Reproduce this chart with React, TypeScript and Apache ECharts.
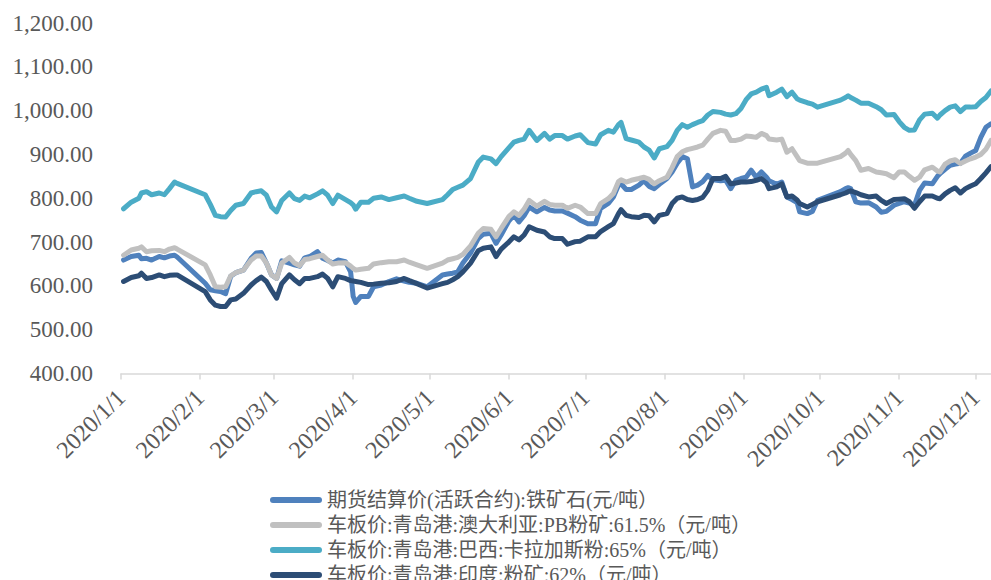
import React, { useEffect, useRef } from "react";
import * as echarts from "echarts";

const seriesNames = [
  "期货结算价(活跃合约):铁矿石(元/吨）",
  "车板价:青岛港:澳大利亚:PB粉矿:61.5%（元/吨）",
  "车板价:青岛港:巴西:卡拉加斯粉:65%（元/吨）",
  "车板价:青岛港:印度:粉矿:62%（元/吨）",
];

const xTickLabels = [
  "2020/1/1", "2020/2/1", "2020/3/1", "2020/4/1", "2020/5/1", "2020/6/1",
  "2020/7/1", "2020/8/1", "2020/9/1", "2020/10/1", "2020/11/1", "2020/12/1",
];

const yTicks = [400, 500, 600, 700, 800, 900, 1000, 1100, 1200];

const dates = [
  "2020-01-02","2020-01-05","2020-01-08","2020-01-09","2020-01-11","2020-01-13","2020-01-16","2020-01-18","2020-01-20","2020-01-22",
  "2020-01-23","2020-02-03","2020-02-05","2020-02-07","2020-02-09","2020-02-11","2020-02-13","2020-02-15","2020-02-18","2020-02-21",
  "2020-02-23","2020-02-25","2020-02-27","2020-02-29","2020-03-02","2020-03-04","2020-03-07","2020-03-09","2020-03-11","2020-03-13",
  "2020-03-15","2020-03-18","2020-03-20","2020-03-22","2020-03-24","2020-03-26","2020-03-29","2020-03-31","2020-04-01","2020-04-02",
  "2020-04-04","2020-04-07","2020-04-09","2020-04-12","2020-04-15","2020-04-18","2020-04-21","2020-04-23","2020-04-26","2020-04-30",
  "2020-05-06","2020-05-08","2020-05-10","2020-05-12","2020-05-14","2020-05-17","2020-05-20","2020-05-22","2020-05-25","2020-05-27",
  "2020-05-29","2020-06-01","2020-06-03","2020-06-05","2020-06-07","2020-06-09","2020-06-12","2020-06-15","2020-06-17","2020-06-19",
  "2020-06-22","2020-06-24","2020-06-27","2020-06-29","2020-07-02","2020-07-05","2020-07-07","2020-07-10","2020-07-12","2020-07-14",
  "2020-07-15","2020-07-17","2020-07-19","2020-07-22","2020-07-24","2020-07-26","2020-07-28","2020-07-30","2020-08-02","2020-08-04",
  "2020-08-06","2020-08-08","2020-08-10","2020-08-12","2020-08-14","2020-08-16","2020-08-18","2020-08-20","2020-08-23","2020-08-25",
  "2020-08-27","2020-08-29","2020-08-31","2020-09-02","2020-09-04","2020-09-06","2020-09-08","2020-09-10","2020-09-11","2020-09-14",
  "2020-09-16","2020-09-18","2020-09-20","2020-09-22","2020-09-23","2020-09-26","2020-09-28","2020-09-30","2020-10-09","2020-10-11",
  "2020-10-12","2020-10-13","2020-10-15","2020-10-17","2020-10-20","2020-10-23","2020-10-25","2020-10-27","2020-10-30","2020-11-01",
  "2020-11-03","2020-11-05","2020-11-07","2020-11-09","2020-11-11","2020-11-14","2020-11-16","2020-11-17","2020-11-19","2020-11-21",
  "2020-11-23","2020-11-25","2020-11-27","2020-11-29","2020-12-01","2020-12-03","2020-12-05","2020-12-07",
];

const futuresValues = [
  659,667,670,662,663,659,667,664,668,670,
  666,606,591,589,587,582,622,630,636,663,
  675,676,652,625,617,657,652,648,645,664,
  667,678,663,658,652,659,655,632,576,562,
  576,576,598,602,610,616,611,608,606,598,
  625,627,629,632,652,675,708,718,720,697,
  716,748,761,746,760,780,769,779,773,771,
  771,766,758,750,742,742,777,788,803,830,
  833,820,820,830,840,827,822,832,845,860,
  880,895,890,826,830,838,852,842,840,841,
  822,841,845,848,864,848,860,848,840,832,
  837,803,797,790,769,765,770,795,815,822,
  824,822,792,789,790,780,768,770,784,788,
  792,789,784,818,835,833,850,856,866,875,
  878,880,896,903,909,939,962,970,
];

const australiaValues = [
  670,682,686,689,678,680,681,678,684,687,
  684,648,625,598,597,598,623,630,636,659,
  668,668,652,625,617,652,665,652,646,660,
  662,667,670,659,650,652,653,645,640,636,
  638,640,650,653,655,655,659,654,648,640,
  652,659,662,665,672,691,720,731,729,712,
  731,758,769,761,775,795,782,793,786,784,
  784,777,784,780,765,765,788,799,811,838,
  842,837,841,845,848,843,833,840,848,870,
  895,906,911,914,917,921,935,948,955,953,
  932,932,935,942,941,939,948,943,935,933,
  935,905,913,895,886,880,880,880,895,903,
  909,900,886,864,868,860,858,856,847,860,
  860,850,841,848,865,871,862,860,878,885,
  888,879,885,890,894,900,912,932,
];

const brazilValues = [
  776,791,800,812,815,808,812,808,822,837,
  834,808,786,761,758,757,772,784,788,812,
  815,817,807,780,769,795,812,799,795,805,
  801,810,817,807,788,807,797,790,785,775,
  791,791,800,803,797,801,805,800,793,788,
  797,808,820,825,830,845,882,894,890,879,
  895,915,928,932,935,955,932,948,935,943,
  943,935,942,945,927,924,945,955,951,968,
  973,936,933,928,917,910,892,913,918,932,
  955,968,962,968,973,977,990,998,996,992,
  990,993,1005,1025,1038,1042,1049,1053,1034,1042,
  1049,1032,1042,1027,1024,1018,1015,1008,1024,1030,
  1034,1030,1024,1017,1017,1009,1002,990,991,975,
  962,955,956,979,992,994,983,990,1000,1008,
  1011,998,1008,1008,1009,1021,1030,1045,
];

const indiaValues = [
  610,619,623,629,617,619,625,621,624,625,
  625,587,568,556,553,553,568,570,583,602,
  612,620,610,590,572,605,625,614,605,617,
  617,621,627,617,598,621,617,612,611,610,
  608,603,604,606,607,610,617,612,605,595,
  605,608,614,621,632,652,680,686,689,667,
  684,700,712,705,716,735,727,723,712,708,
  708,695,701,702,712,712,724,735,742,765,
  774,761,758,756,761,760,746,761,765,788,
  800,803,797,795,797,802,818,845,845,850,
  833,835,837,837,838,841,845,835,822,826,
  833,803,805,796,788,780,786,792,808,812,
  815,817,813,808,803,805,795,788,797,798,
  799,792,777,792,805,805,800,799,810,818,
  824,812,822,828,833,845,858,872,
];

const seriesColors = ["#4f81bd", "#c0c0c0", "#4bacc6", "#2c4d75"];
const allValues = [futuresValues, australiaValues, brazilValues, indiaValues];

const serif = "'Liberation Serif', 'Times New Roman', serif";
const legendFont = "'Liberation Serif', 'Noto Sans CJK SC', serif";

const toTime = (s: string) => new Date(s.replace(/-/g, "/")).getTime();

export default function App() {
  const ref = useRef<HTMLDivElement>(null);
  useEffect(() => {
    document.body.style.margin = "0";
    if (!ref.current) return;
    const chart = echarts.init(ref.current, undefined, { renderer: "svg" });
    const monthTicks = xTickLabels.map(toTime);
    const capsule = "path://M3,0 L49,0 A3,3 0 0 1 49,6 L3,6 A3,3 0 0 1 3,0 Z";
    chart.setOption({
      animation: false,
      backgroundColor: "#ffffff",
      grid: { left: 121, right: 0, top: 23, bottom: 206.5, containLabel: false },
      legend: {
        orient: "vertical",
        left: 265,
        top: 485,
        height: 200,
        itemGap: 5,
        itemWidth: 52,
        itemHeight: 6,
        data: seriesNames.map((n) => ({ name: n, icon: capsule })),
        textStyle: { fontFamily: legendFont, fontSize: 20, color: "#595959" },
      },
      xAxis: {
        type: "value",
        min: toTime("2020/1/1"),
        max: toTime("2020/12/7"),
        axisLine: { show: true, lineStyle: { color: "#d9d9d9", width: 1.5 } },
        axisTick: {
          show: true,
          length: 6,
          customValues: monthTicks,
          lineStyle: { color: "#d9d9d9", width: 1.5 },
        },
        axisLabel: {
          customValues: monthTicks,
          rotate: 45,
          margin: 20,
          fontFamily: serif,
          fontSize: 24,
          color: "#595959",
          showMinLabel: true,
          showMaxLabel: true,
          hideOverlap: false,
          formatter: (v: number) => {
            const d = new Date(v);
            return `${d.getFullYear()}/${d.getMonth() + 1}/${d.getDate()}`;
          },
        },
        splitLine: { show: false },
      },
      yAxis: {
        type: "value",
        min: yTicks[0],
        max: yTicks[yTicks.length - 1],
        interval: 100,
        axisLine: { show: false },
        axisTick: { show: false },
        splitLine: { show: false },
        axisLabel: {
          margin: 28,
          fontFamily: serif,
          fontSize: 23,
          color: "#595959",
          formatter: (v: number) =>
            v.toLocaleString("en-US", { minimumFractionDigits: 2, maximumFractionDigits: 2 }),
        },
      },
      series: seriesNames.map((name, i) => ({
        name,
        type: "line",
        showSymbol: false,
        symbol: "none",
        color: seriesColors[i],
        lineStyle: { width: 5, color: seriesColors[i], cap: "round", join: "round" },
        data: dates.map((d, j) => [toTime(d), allValues[i][j]]),
        z: 2 + i,
      })),
    });
    return () => chart.dispose();
  }, []);
  return <div ref={ref} style={{ width: 991, height: 580 }} />;
}
